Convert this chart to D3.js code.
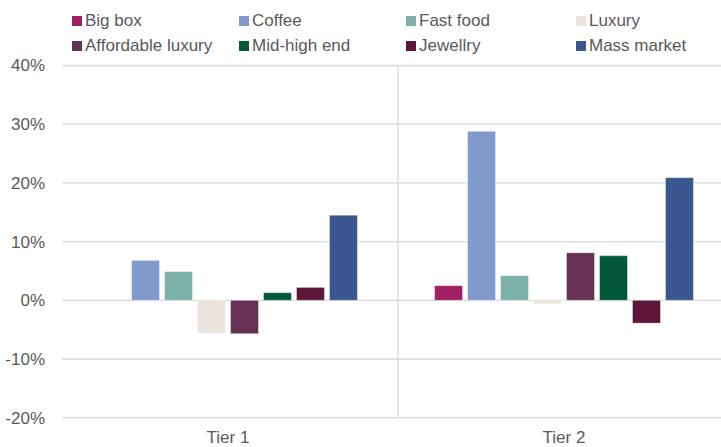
<!DOCTYPE html>
<html>
<head>
<meta charset="utf-8">
<script src="https://cdn.jsdelivr.net/npm/d3@7"></script>
<style>
  html, body { margin: 0; padding: 0; background: #fff; }
  svg { display: block; font-family: "Liberation Sans", Arial, sans-serif; }
</style>
</head>
<body>
<svg id="chart" width="721" height="447"></svg>
<script>
const categories = ["Tier 1", "Tier 2"];
const seriesNames = ["Big box", "Coffee", "Fast food", "Luxury", "Affordable luxury", "Mid-high end", "Jewellry", "Mass market"];
const seriesColors = ["#9E1F63", "#7F9ACB", "#7BB1A6", "#EAE4DC", "#663254", "#005838", "#5E1639", "#3A568F"];
const tier1Values = [0, 6.8, 4.9, -5.6, -5.7, 1.3, 2.2, 14.5];
const tier2Values = [2.5, 28.8, 4.2, -0.6, 8.1, 7.6, -3.9, 20.9];
const yTicks = [-20, -10, 0, 10, 20, 30, 40];

const values = [tier1Values, tier2Values];
const svg = d3.select("#chart");

const x0 = d3.scaleBand().domain(categories).range([62, 734]);
const bw = x0.bandwidth();
const groupW = 259;
const x1 = d3.scaleBand().domain(seriesNames)
  .range([(bw - groupW) / 2 - 2, (bw + groupW) / 2 - 2]).paddingInner(0.15);
const y = d3.scaleLinear().domain([-20, 40]).range([417.7, 65.5]);

const gridColor = "#d9d9d9";
// gridlines
svg.append("g").selectAll("line").data(yTicks).join("line")
  .attr("x1", 62).attr("x2", 721)
  .attr("y1", d => y(d)).attr("y2", d => y(d))
  .attr("stroke", gridColor).attr("stroke-width", 1.3);

// y axis labels
svg.append("g").selectAll("text").data(yTicks).join("text")
  .attr("x", 45).attr("y", d => y(d)).attr("dy", "0.35em")
  .attr("text-anchor", "end").attr("font-size", 17).attr("fill", "#595959")
  .text(d => d + "%");

// divider between categories
svg.append("line")
  .attr("x1", x0("Tier 2")).attr("x2", x0("Tier 2"))
  .attr("y1", y(40)).attr("y2", y(-20))
  .attr("stroke", gridColor).attr("stroke-width", 1.3);

// bars
const groups = svg.append("g").selectAll("g").data(categories).join("g")
  .attr("transform", d => `translate(${x0(d)},0)`);
groups.each(function(cat, ci) {
  d3.select(this).selectAll("rect").data(seriesNames.map((s, i) => ({ s, i, v: values[ci][i] })))
    .join("rect")
    .attr("x", d => x1(d.s))
    .attr("width", x1.bandwidth())
    .attr("y", d => y(Math.max(0, d.v)))
    .attr("height", d => Math.abs(y(d.v) - y(0)))
    .attr("fill", d => seriesColors[d.i])
    .attr("stroke", "#ffffff").attr("stroke-opacity", 0.45).attr("stroke-width", 1);
});

// category labels
svg.append("g").selectAll("text").data(categories).join("text")
  .attr("x", d => x0(d) + bw / 2 - 2).attr("y", 443)
  .attr("text-anchor", "middle").attr("font-size", 17).attr("fill", "#595959")
  .text(d => d);

// legend
const colX = [72, 239, 406, 576];
const rowY = [25.5, 50.5];
const leg = svg.append("g").selectAll("g").data(seriesNames).join("g")
  .attr("transform", (d, i) => `translate(${colX[i % 4]},${rowY[Math.floor(i / 4)]})`);
leg.append("rect").attr("x", 0).attr("y", -9.5).attr("width", 10).attr("height", 10)
  .attr("fill", (d, i) => seriesColors[i]);
leg.append("text").attr("x", 13).attr("y", 0)
  .attr("font-size", 17).attr("fill", "#595959").text(d => d);
</script>
</body>
</html>
